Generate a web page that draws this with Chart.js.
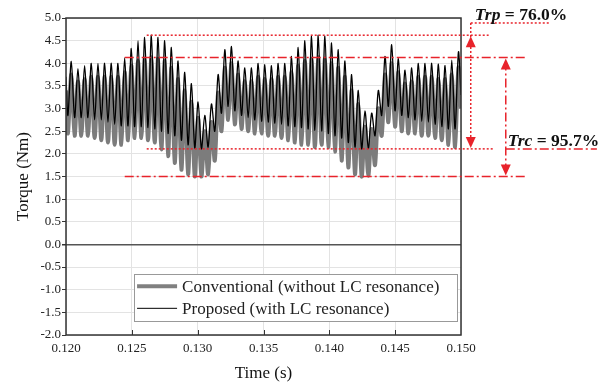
<!DOCTYPE html>
<html>
<head>
<meta charset="utf-8">
<script src="https://cdn.jsdelivr.net/npm/chart.js@4.4.1/dist/chart.umd.min.js"></script>
<style>
  html, body { margin: 0; padding: 0; background: #fff; }
  #chart { display: block; }
</style>
</head>
<body>
<canvas id="chart" width="614" height="385"></canvas>
<script>
// ripple peaks / troughs (Nm), one per switching ripple
const firstPeakTime = 0.1204; // s
const ripplePeriod = 0.000507; // s

const propStart = 3.7, propEnd = 3.3;
const propTroughs = [
  2.85, 2.8, 2.8, 2.8, 2.75, 2.75, 2.7, 2.65,
  2.62, 2.62, 2.6, 2.6, 2.58, 2.55, 2.5,
  2.45, 2.4, 2.3, 2.2, 2.13, 2.11,
  2.15, 2.5, 2.9, 3.05, 2.95, 2.85, 2.8, 2.75,
  2.72, 2.7, 2.68, 2.65, 2.62,
  2.6, 2.58, 2.55, 2.52, 2.5, 2.45, 2.4,
  2.35, 2.25, 2.15, 2.11, 2.12,
  2.4, 2.85, 3.05, 2.95, 2.85, 2.8, 2.75, 2.72, 2.7, 2.65, 2.6, 2.55, 2.55
];
const propPeaks = [
  4.04, 3.88, 3.95, 4.0, 4.0, 4.0, 4.0, 4.0,
  4.12, 4.33, 4.5, 4.57, 4.62, 4.57, 4.5,
  4.35, 4.05, 3.8, 3.55, 3.15, 2.85,
  3.1, 3.75, 4.3, 4.37, 4.05, 3.9, 3.9, 4.0,
  3.97, 3.95, 4.0, 4.0, 4.15,
  4.35, 4.5, 4.6, 4.62, 4.6, 4.45, 4.3,
  4.05, 3.75, 3.4, 2.95, 2.9,
  3.4, 4.15, 4.41, 4.1, 3.85, 3.9, 4.0, 4.0, 4.0, 3.98, 3.95, 4.07, 4.25
];

const convStart = 3.4, convEnd = 3.0;
const convTroughs = [
  2.45, 2.4, 2.4, 2.4, 2.35, 2.3, 2.25, 2.2,
  2.2, 2.3, 2.35, 2.35, 2.3, 2.25, 2.1,
  1.95, 1.8, 1.65, 1.55, 1.5, 1.5,
  1.55, 1.85, 2.5, 2.75, 2.65, 2.55, 2.5, 2.45,
  2.45, 2.4, 2.4, 2.35, 2.3,
  2.25, 2.2, 2.2, 2.15, 2.2, 2.15, 2.05,
  1.85, 1.7, 1.55, 1.5, 1.52,
  1.75, 2.4, 2.7, 2.6, 2.5, 2.45, 2.45, 2.4, 2.4, 2.35, 2.3, 2.2, 2.15
];
const convPeaks = [
  3.75, 3.6, 3.65, 3.7, 3.7, 3.7, 3.7, 3.7,
  3.8, 3.95, 4.05, 4.1, 4.13, 4.1, 4.05,
  3.9, 3.65, 3.4, 3.15, 2.8, 2.5,
  2.7, 3.35, 3.9, 4.0, 3.75, 3.6, 3.6, 3.7,
  3.65, 3.65, 3.7, 3.7, 3.8,
  3.95, 4.05, 4.1, 4.13, 4.1, 4.0, 3.9,
  3.7, 3.4, 3.1, 2.6, 2.55,
  3.0, 3.75, 4.0, 3.8, 3.55, 3.6, 3.7, 3.7, 3.7, 3.65, 3.65, 3.75, 3.9
];

const seriesNames = ["Conventional (without LC resonance)", "Proposed (with LC resonance)"];

// ripple limits marked on the plot
const trpMax = 4.62, trpMin = 2.11, trpText = "76.0%";
const trcMax = 4.13, trcMin = 1.5, trcText = "95.7%";

function buildPoints(start, troughs, peaks, end) {
  const pts = [{ x: 0.120, y: start }];
  for (let k = 0; k < peaks.length; k++) {
    pts.push({ x: firstPeakTime - ripplePeriod / 2 + k * ripplePeriod, y: troughs[k] });
    pts.push({ x: firstPeakTime + k * ripplePeriod, y: peaks[k] });
  }
  pts.push({ x: 0.150, y: end });
  return pts;
}

const RED = "#e8232b";
const SERIF = "'Liberation Serif', 'Times New Roman', serif";

const framePlugin = {
  id: "frame",
  beforeDatasetsDraw(chart) {
    const { ctx, chartArea: a, scales: { x } } = chart;
    ctx.save();
    // inward x ticks
    ctx.strokeStyle = "#333";
    ctx.lineWidth = 1;
    for (let t = 0.125; t < 0.1499; t += 0.005) {
      const px = Math.round(x.getPixelForValue(t)) + 0.5;
      ctx.beginPath();
      ctx.moveTo(px, a.bottom);
      ctx.lineTo(px, a.bottom - 5);
      ctx.stroke();
    }
    ctx.restore();
  },
  afterDraw(chart) {
    const { ctx, chartArea: a } = chart;
    ctx.save();
    ctx.strokeStyle = "#333";
    ctx.lineWidth = 1.5;
    ctx.strokeRect(a.left, a.top, a.right - a.left, a.bottom - a.top);
    ctx.restore();
  }
};

const legendPlugin = {
  id: "boxLegend",
  afterDraw(chart) {
    const { ctx, scales: { x, y } } = chart;
    const l = x.getPixelForValue(0.12517), r = x.getPixelForValue(0.14972);
    const t = y.getPixelForValue(-0.66), b = y.getPixelForValue(-1.69);
    ctx.save();
    ctx.fillStyle = "#fff";
    ctx.fillRect(l, t, r - l, b - t);
    ctx.strokeStyle = "#999";
    ctx.lineWidth = 1;
    ctx.strokeRect(Math.round(l) + 0.5, Math.round(t) + 0.5, Math.round(r - l), Math.round(b - t));
    const rows = [
      { name: seriesNames[0], color: "#808080", w: 4 },
      { name: seriesNames[1], color: "#000", w: 1 }
    ];
    ctx.font = "17px " + SERIF;
    ctx.textBaseline = "middle";
    rows.forEach((row, i) => {
      const cy = t + 12 + i * 22;
      ctx.strokeStyle = row.color;
      ctx.lineWidth = row.w;
      ctx.beginPath();
      ctx.moveTo(l + 3, cy);
      ctx.lineTo(l + 43, cy);
      ctx.stroke();
      ctx.fillStyle = "#222";
      ctx.fillText(row.name, l + 48, cy + 1);
    });
    ctx.restore();
  }
};

function arrowHead(ctx, px, py, dir) {
  // dir = -1 points up, 1 points down; tip at (px, py)
  ctx.beginPath();
  ctx.moveTo(px, py);
  ctx.lineTo(px - 5, py - dir * 11);
  ctx.lineTo(px + 5, py - dir * 11);
  ctx.closePath();
  ctx.fill();
}

function hLine(ctx, x1, x2, py, dash) {
  ctx.setLineDash(dash);
  ctx.beginPath();
  ctx.moveTo(x1, py);
  ctx.lineTo(x2, py);
  ctx.stroke();
}

function vLine(ctx, px, y1, y2, dash) {
  ctx.setLineDash(dash);
  ctx.beginPath();
  ctx.moveTo(px, y1);
  ctx.lineTo(px, y2);
  ctx.stroke();
}

function label(ctx, lx, ly, name, value) {
  ctx.font = "italic bold 17.5px " + SERIF;
  ctx.fillStyle = "#111";
  ctx.textBaseline = "alphabetic";
  ctx.fillText(name, lx, ly);
  const w = ctx.measureText(name).width;
  ctx.font = "bold 17.5px " + SERIF;
  ctx.fillText(" = " + value, lx + w, ly);
}

const ripplePlugin = {
  id: "ripple",
  afterDraw(chart) {
    const { ctx, scales: { x, y } } = chart;
    const dot = [2, 2], dashDot = [9, 3, 2, 3];
    const yTpMax = y.getPixelForValue(trpMax), yTpMin = y.getPixelForValue(trpMin);
    const yTcMax = y.getPixelForValue(trcMax), yTcMin = y.getPixelForValue(trcMin);
    ctx.save();
    ctx.strokeStyle = RED;
    ctx.fillStyle = RED;
    ctx.lineWidth = 1.5;

    hLine(ctx, x.getPixelForValue(0.12613), x.getPixelForValue(0.1521), yTpMax, dot);
    hLine(ctx, x.getPixelForValue(0.12613), x.getPixelForValue(0.15248), yTpMin, dot);
    hLine(ctx, x.getPixelForValue(0.12446), x.getPixelForValue(0.15502), yTcMax, dashDot);
    hLine(ctx, x.getPixelForValue(0.12446), x.getPixelForValue(0.15502), yTcMin, dashDot);

    // Trp marker
    const xp = x.getPixelForValue(0.15074);
    const yLead = y.getPixelForValue(4.89);
    vLine(ctx, xp, yLead, yTpMin - 4, dot);
    hLine(ctx, xp, x.getPixelForValue(0.15675), yLead, dot);
    ctx.setLineDash([]);
    arrowHead(ctx, xp, yTpMax + 1, -1);
    arrowHead(ctx, xp, yTpMin - 1, 1);

    // Trc marker
    const xc = x.getPixelForValue(0.1534);
    const yLead2 = y.getPixelForValue(2.11);
    vLine(ctx, xc, yTcMax + 4, yTcMin - 4, dashDot);
    hLine(ctx, xc, x.getPixelForValue(0.16032), yLead2, dashDot);
    ctx.setLineDash([]);
    arrowHead(ctx, xc, yTcMax + 1, -1);
    arrowHead(ctx, xc, yTcMin - 1, 1);

    label(ctx, x.getPixelForValue(0.15105), y.getPixelForValue(4.96), "Trp", trpText);
    label(ctx, x.getPixelForValue(0.15355), y.getPixelForValue(2.18), "Trc", trcText);
    ctx.restore();
  }
};

new Chart(document.getElementById("chart"), {
  type: "line",
  data: {
    datasets: [
      {
        label: seriesNames[0],
        data: buildPoints(convStart, convTroughs, convPeaks, convEnd),
        borderColor: "#7c7c7c",
        borderWidth: 4,
        pointRadius: 0,
        tension: 0.3,
        fill: false,
        order: 2
      },
      {
        label: seriesNames[1],
        data: buildPoints(propStart, propTroughs, propPeaks, propEnd),
        borderColor: "#000",
        borderWidth: 1.3,
        pointRadius: 0,
        tension: 0.3,
        fill: false,
        order: 1
      }
    ]
  },
  options: {
    responsive: false,
    devicePixelRatio: 1,
    animation: false,
    layout: { padding: { left: 0, top: 18, right: 153, bottom: 0 } },
    plugins: { legend: { display: false }, tooltip: { enabled: false } },
    scales: {
      x: {
        type: "linear",
        min: 0.12,
        max: 0.15,
        afterFit: (s) => { s.height = 50; },
        ticks: {
          stepSize: 0.005,
          callback: (v) => v.toFixed(3),
          font: { family: SERIF, size: 13 },
          color: "#222",
          padding: 6,
          maxRotation: 0
        },
        grid: { color: "#e3e3e3", drawTicks: false },
        border: { display: false },
        title: {
          display: true,
          text: "Time (s)",
          font: { family: SERIF, size: 17 },
          color: "#111",
          padding: { top: 0, bottom: 1 }
        }
      },
      y: {
        min: -2,
        max: 5,
        afterFit: (s) => { s.width = 66; },
        ticks: {
          stepSize: 0.5,
          callback: (v) => v.toFixed(1),
          font: { family: SERIF, size: 13 },
          color: "#222",
          padding: 1
        },
        grid: {
          color: (c) => (c.tick && c.tick.value === 0 ? "#555" : "#e3e3e3"),
          lineWidth: (c) => (c.tick && c.tick.value === 0 ? 1.5 : 1),
          tickLength: 4,
          tickColor: "#333"
        },
        border: { display: false },
        title: {
          display: true,
          text: "Torque (Nm)",
          font: { family: SERIF, size: 17 },
          color: "#111",
          padding: { top: 13, bottom: 0 }
        }
      }
    }
  },
  plugins: [framePlugin, legendPlugin, ripplePlugin]
});
</script>
</body>
</html>
